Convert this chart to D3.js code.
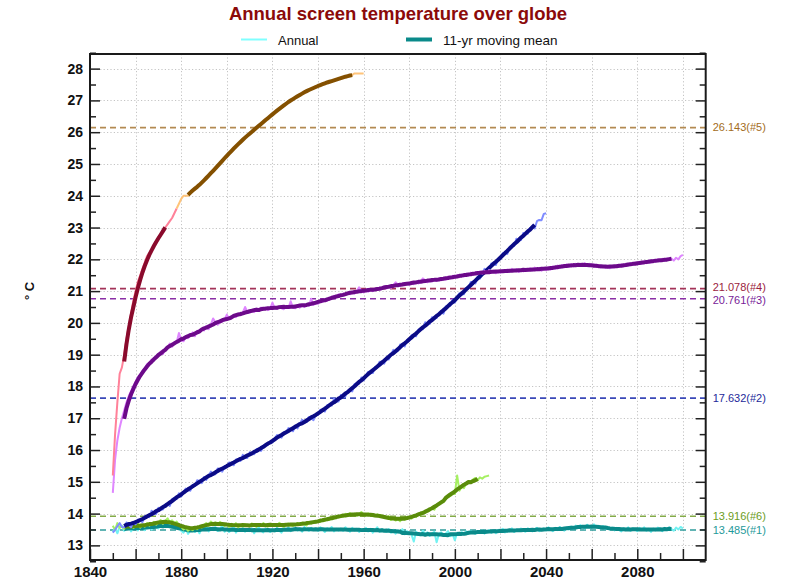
<!DOCTYPE html>
<html>
<head>
<meta charset="utf-8">
<script src="https://cdn.jsdelivr.net/npm/d3@7"></script>
<style>
  body { margin: 0; background: #fff; }
  svg { display: block; }
  text { font-family: "Liberation Sans", Arial, Helvetica, sans-serif; }
</style>
</head>
<body>
<svg id="chart" width="785" height="580"></svg>
<script>
// ---------------- data ----------------
const titleText = "Annual screen temperature over globe";
const legendLabels = ["Annual", "11-yr moving mean"];
const yTickValues = [13, 14, 15, 16, 17, 18, 19, 20, 21, 22, 23, 24, 25, 26, 27, 28];
const xLabelYears = [1840, 1880, 1920, 1960, 2000, 2040, 2080];

// first year of each run's annual record
const runStartYears = [1850, 1850, 1850, 1850, 1878, 1850];
const runIds = ["#1", "#2", "#3", "#4", "#5", "#6"];
// reference (equilibrium) temperatures of the runs
const refValues = [13.485, 17.632, 20.761, 21.078, 26.143, 13.916];

// run #1, 1850-2100
const annualRun1 = [
  13.42,13.55,13.38,13.58,13.62,13.46,13.52,13.60,13.44,13.55,
  13.58,13.47,13.64,13.53,13.48,13.60,13.66,13.50,13.58,13.62,
  13.53,13.64,13.57,13.68,13.60,13.72,13.62,13.57,13.66,13.53,
  13.46,13.40,13.52,13.36,13.48,13.54,13.42,13.50,13.38,13.57,
  13.50,13.60,13.44,13.55,13.48,13.58,13.45,13.53,13.62,13.43,
  13.51,13.42,13.49,13.57,13.40,13.52,13.46,13.55,13.43,13.51,
  13.45,13.54,13.38,13.50,13.57,13.46,13.41,13.53,13.48,13.42,
  13.51,13.44,13.55,13.46,13.40,13.54,13.49,13.57,13.45,13.51,
  13.56,13.47,13.53,13.43,13.58,13.50,13.46,13.55,13.48,13.52,
  13.46,13.57,13.50,13.42,13.54,13.48,13.58,13.44,13.52,13.47,
  13.53,13.46,13.57,13.50,13.43,13.55,13.47,13.52,13.42,13.51,
  13.47,13.55,13.44,13.52,13.40,13.49,13.57,13.43,13.51,13.46,
  13.43,13.51,13.40,13.49,13.37,13.47,13.42,13.51,13.35,13.45,
  13.40,13.34,13.12,13.43,13.38,13.32,13.46,13.35,13.41,13.30,
  13.38,13.43,13.10,13.35,13.41,13.31,13.37,13.45,13.29,13.36,
  13.16,13.40,13.33,13.42,13.35,13.44,13.37,13.46,13.40,13.36,
  13.45,13.39,13.47,13.37,13.44,13.48,13.40,13.46,13.38,13.49,
  13.43,13.52,13.41,13.48,13.44,13.54,13.42,13.50,13.45,13.53,
  13.46,13.43,13.54,13.47,13.44,13.51,13.55,13.45,13.50,13.53,
  13.47,13.57,13.50,13.45,13.55,13.48,13.58,13.51,13.46,13.56,
  13.50,13.59,13.52,13.62,13.55,13.64,13.58,13.53,13.65,13.59,
  13.55,13.66,13.57,13.62,13.54,13.61,13.52,13.58,13.50,13.56,
  13.47,13.55,13.49,13.44,13.54,13.48,13.57,13.46,13.53,13.50,
  13.45,13.55,13.48,13.57,13.46,13.52,13.42,13.53,13.47,13.56,
  13.50,13.45,13.55,13.48,13.57,13.51,13.46,13.56,13.50,13.58,
  13.53
];

// run #2, 1850-2040
const annualRun2 = [
  13.40,13.49,13.60,13.70,13.58,13.57,13.72,13.66,13.57,13.73,
  13.66,13.81,13.79,13.73,13.92,13.93,13.89,14.09,14.00,13.99,
  14.18,14.13,14.13,14.29,14.30,14.24,14.46,14.48,14.46,14.64,
  14.54,14.68,14.79,14.74,14.72,14.90,14.87,15.05,15.02,14.96,
  15.15,15.06,15.20,15.32,15.23,15.24,15.42,15.38,15.32,15.50,
  15.46,15.61,15.58,15.52,15.70,15.71,15.66,15.85,15.76,15.75,
  15.93,15.88,15.87,16.03,16.03,15.97,16.12,16.17,16.17,16.26,
  16.24,16.37,16.47,16.42,16.39,16.56,16.55,16.69,16.66,16.59,
  16.77,16.68,16.83,16.95,16.89,16.88,17.04,17.00,16.94,17.13,
  17.11,17.27,17.26,17.21,17.41,17.43,17.40,17.61,17.53,17.53,
  17.73,17.69,17.70,17.87,17.89,17.84,18.07,18.10,18.09,18.28,
  18.19,18.34,18.46,18.43,18.42,18.61,18.59,18.78,18.77,18.72,
  18.92,18.85,19.01,19.15,19.08,19.12,19.32,19.30,19.26,19.46,
  19.44,19.61,19.61,19.58,19.79,19.82,19.80,20.02,19.96,19.97,
  20.18,20.14,20.15,20.32,20.34,20.29,20.52,20.55,20.54,20.73,
  20.64,20.80,20.93,20.90,20.90,21.10,21.09,21.29,21.28,21.24,
  21.45,21.39,21.55,21.70,21.63,21.67,21.87,21.86,21.82,22.03,
  22.01,22.19,22.20,22.17,22.39,22.43,22.42,22.65,22.59,22.61,
  22.83,22.80,22.81,22.99,23.01,22.97,23.20,23.24,23.23,23.43,
  23.45
];

// run #3, 1850-2100
const annualRun3 = [
  14.65,15.70,16.30,16.70,17.00,17.25,17.50,17.70,17.85,18.00,
  18.15,18.30,18.35,18.50,18.55,18.70,18.72,18.85,18.82,18.95,
  19.00,19.10,19.02,19.18,19.20,19.35,19.25,19.40,19.38,19.68,
  19.45,19.42,19.58,19.52,19.62,19.70,19.58,19.75,19.70,19.80,
  19.76,19.90,19.80,19.95,20.14,20.02,19.94,20.02,20.04,20.10,
  20.26,20.12,20.14,20.22,20.18,20.28,20.24,20.32,20.50,20.34,
  20.32,20.40,20.34,20.45,20.38,20.48,20.42,20.48,20.40,20.44,
  20.64,20.46,20.44,20.52,20.46,20.43,20.52,20.47,20.68,20.48,
  20.46,20.54,20.48,20.56,20.50,20.58,20.54,20.76,20.56,20.64,
  20.60,20.70,20.66,20.75,20.70,20.80,20.76,20.85,20.80,20.90,
  20.84,20.92,20.88,20.95,20.90,20.98,20.92,21.00,21.12,21.02,
  20.96,21.04,20.98,21.06,21.00,21.08,21.04,21.12,21.06,21.15,
  21.08,21.16,21.10,21.18,21.28,21.20,21.16,21.24,21.18,21.26,
  21.20,21.28,21.22,21.30,21.24,21.32,21.40,21.34,21.28,21.36,
  21.30,21.38,21.32,21.40,21.34,21.42,21.36,21.46,21.40,21.48,
  21.42,21.50,21.44,21.52,21.46,21.55,21.48,21.58,21.51,21.60,
  21.53,21.62,21.55,21.64,21.56,21.66,21.58,21.65,21.56,21.63,
  21.58,21.66,21.60,21.68,21.61,21.70,21.63,21.69,21.60,21.67,
  21.62,21.70,21.64,21.72,21.65,21.74,21.66,21.73,21.64,21.72,
  21.66,21.75,21.68,21.78,21.70,21.80,21.73,21.82,21.75,21.84,
  21.76,21.85,21.78,21.86,21.80,21.86,21.80,21.88,21.80,21.86,
  21.78,21.84,21.76,21.82,21.74,21.80,21.73,21.79,21.72,21.77,
  21.74,21.82,21.76,21.84,21.78,21.86,21.80,21.88,21.82,21.90,
  21.84,21.92,21.86,21.94,21.88,21.96,21.90,21.98,21.93,22.00,
  21.94,22.02,21.96,22.03,21.98,22.02,21.96,22.05,22.00,22.10,
  22.14
];

// run #4, 1850-1878
const annualRun4 = [
  15.20,16.50,17.50,18.40,18.60,19.00,19.50,19.90,20.30,20.70,
  21.00,21.30,21.50,21.70,21.90,22.10,22.20,22.30,22.45,22.55,
  22.70,22.80,22.90,23.00,23.10,23.20,23.30,23.45,23.60
];

// run #5, 1878-1960
const annualRun5 = [
  23.60,23.75,23.90,24.00,24.00,24.00,24.08,24.14,24.20,24.27,
  24.34,24.41,24.48,24.55,24.62,24.70,24.78,24.86,24.94,25.02,
  25.10,25.18,25.26,25.34,25.42,25.50,25.57,25.64,25.70,25.75,
  25.85,25.90,25.95,26.00,26.10,26.15,26.20,26.25,26.30,26.40,
  26.45,26.50,26.55,26.60,26.70,26.75,26.80,26.85,26.90,26.95,
  27.00,27.05,27.10,27.15,27.20,27.20,27.25,27.30,27.35,27.35,
  27.40,27.45,27.45,27.50,27.50,27.55,27.55,27.60,27.60,27.65,
  27.65,27.70,27.70,27.70,27.75,27.75,27.80,27.80,27.85,27.85,
  27.85,27.85,27.85
];

// run #6, 1850-2015
const annualRun6 = [
  13.62,13.48,13.70,13.55,13.60,13.52,13.66,13.58,13.63,13.55,
  13.60,13.68,13.56,13.64,13.59,13.70,13.62,13.67,13.74,13.65,
  13.72,13.80,13.68,13.76,13.85,13.73,13.79,13.70,13.75,13.62,
  13.58,13.50,13.55,13.46,13.52,13.48,13.57,13.51,13.60,13.56,
  13.64,13.70,13.62,13.75,13.68,13.72,13.66,13.74,13.69,13.61,
  13.65,13.58,13.68,13.62,13.70,13.57,13.64,13.60,13.67,13.63,
  13.60,13.69,13.63,13.58,13.66,13.62,13.70,13.64,13.59,13.68,
  13.62,13.67,13.60,13.71,13.64,13.58,13.66,13.69,13.63,13.61,
  13.66,13.70,13.64,13.72,13.67,13.63,13.74,13.69,13.76,13.72,
  13.78,13.74,13.82,13.77,13.86,13.80,13.90,13.85,13.93,13.88,
  13.95,13.90,13.99,13.94,14.02,13.96,14.00,13.93,13.98,14.05,
  13.97,13.94,14.01,13.95,13.99,13.92,13.98,13.90,13.94,13.88,
  13.86,13.92,13.80,13.84,13.78,13.83,13.76,13.85,13.80,13.88,
  13.90,13.84,13.95,13.89,14.00,13.96,14.06,14.02,14.12,14.10,
  14.18,14.12,14.26,14.30,14.38,14.36,14.46,14.52,14.55,14.66,
  14.62,15.20,14.72,14.85,14.80,14.96,15.02,14.98,15.08,15.12,
  15.05,15.14,15.10,15.16,15.18,15.20
];

// ---------------- styles ----------------
const W = 785, H = 580;
const plot = { left: 90, right: 705.7, top: 54, bottom: 560 };
const runStyle = {
  "#1": { annual: "#72f2f2", mean: "#0a8a8a", ref: "#2e9c9c", label: "#1f9a9a", nudge: 0 },
  "#2": { annual: "#7f8cff", mean: "#0b0b86", ref: "#3a48b8", label: "#23299a", nudge: 0 },
  "#3": { annual: "#df86ff", mean: "#6c0a8a", ref: "#8a2ea6", label: "#781c98", nudge: 1.6 },
  "#4": { annual: "#ff8199", mean: "#8a0a2c", ref: "#a33358", label: "#9a1c40", nudge: -1.6 },
  "#5": { annual: "#ffc47a", mean: "#845000", ref: "#b38a52", label: "#a36c22", nudge: 0 },
  "#6": { annual: "#a6f062", mean: "#5a8c0a", ref: "#84ab48", label: "#6c9c1c", nudge: 0 }
};
const drawOrder = ["#1", "#6", "#2", "#3", "#4", "#5"];

const annualById = {
  "#1": annualRun1, "#2": annualRun2, "#3": annualRun3,
  "#4": annualRun4, "#5": annualRun5, "#6": annualRun6
};

// ---------------- scales ----------------
const x = d3.scaleLinear().domain([1840, 2110]).range([plot.left, plot.right]);
const y = d3.scaleLinear().domain([12.54, 28.46]).range([plot.bottom, plot.top]);

const svg = d3.select("#chart");
svg.append("rect").attr("width", W).attr("height", H).attr("fill", "#fff");

// ---------------- grid ----------------
const grid = svg.append("g").attr("stroke", "#c4c4c4").attr("stroke-width", 1)
  .attr("stroke-dasharray", "1.2,2.2");
grid.selectAll("line.h").data(yTickValues).join("line")
  .attr("x1", plot.left).attr("x2", plot.right)
  .attr("y1", d => Math.round(y(d)) + 0.5).attr("y2", d => Math.round(y(d)) + 0.5);
grid.selectAll("line.v").data(d3.range(1860, 2101, 20)).join("line")
  .attr("x1", d => Math.round(x(d)) + 0.5).attr("x2", d => Math.round(x(d)) + 0.5)
  .attr("y1", plot.top).attr("y2", plot.bottom);

// ---------------- reference lines ----------------
const refs = refValues.map((v, i) => ({ id: runIds[i], v }));
svg.append("g").selectAll("line").data(refs).join("line")
  .attr("x1", plot.left).attr("x2", plot.right)
  .attr("y1", d => y(d.v)).attr("y2", d => y(d.v))
  .attr("stroke", d => runStyle[d.id].ref)
  .attr("stroke-width", 1.6)
  .attr("stroke-dasharray", "6,4");

svg.append("g").selectAll("text").data(refs).join("text")
  .attr("x", plot.right + 7)
  .attr("y", d => y(d.v) + runStyle[d.id].nudge)
  .attr("dy", "0.35em")
  .attr("font-size", 11)
  .attr("fill", d => runStyle[d.id].label)
  .text(d => d.v.toFixed(3) + "(" + d.id + ")");

// ---------------- series ----------------
function movingMean(vals, start, w) {
  const h = (w - 1) / 2, out = [];
  for (let i = h; i < vals.length - h; i++) {
    out.push({ year: start + i, v: d3.mean(vals.slice(i - h, i + h + 1)) });
  }
  return out;
}
const line = d3.line().x(d => x(d.year)).y(d => y(d.v));
const seriesG = svg.append("g");
drawOrder.forEach(id => {
  const idx = runIds.indexOf(id);
  const start = runStartYears[idx];
  const vals = annualById[id];
  const pts = vals.map((v, i) => ({ year: start + i, v }));
  seriesG.append("path").datum(pts)
    .attr("d", line).attr("fill", "none")
    .attr("stroke", runStyle[id].annual).attr("stroke-width", 2)
    .attr("stroke-linejoin", "round");
  seriesG.append("path").datum(movingMean(vals, start, 11))
    .attr("d", line).attr("fill", "none")
    .attr("stroke", runStyle[id].mean).attr("stroke-width", 4)
    .attr("stroke-linejoin", "round");
});

// ---------------- axes ----------------
const axisFont = g => g.selectAll("text")
  .attr("font-family", '"Liberation Sans", Arial, sans-serif')
  .attr("font-weight", "bold").attr("fill", "#111");

// left: major + minor ticks, pointing inward
svg.append("g").attr("transform", `translate(${plot.left},0)`)
  .call(d3.axisLeft(y).tickValues(yTickValues).tickSize(-10).tickPadding(7)
    .tickFormat(d3.format("d")))
  .call(g => g.select(".domain").remove())
  .call(g => g.selectAll("line").attr("stroke", "#222").attr("stroke-width", 1.5))
  .call(g => g.selectAll("text").attr("font-size", 14))
  .call(axisFont);
svg.append("g").attr("transform", `translate(${plot.left},0)`)
  .call(d3.axisLeft(y).tickValues(d3.range(12.5, 28.6, 1)).tickSize(-6).tickFormat(""))
  .call(g => g.select(".domain").remove())
  .call(g => g.selectAll("line").attr("stroke", "#222").attr("stroke-width", 1.5));

// right: mirrored ticks, no labels
svg.append("g").attr("transform", `translate(${plot.right},0)`)
  .call(d3.axisRight(y).tickValues(yTickValues).tickSize(-10).tickFormat(""))
  .call(g => g.select(".domain").remove())
  .call(g => g.selectAll("line").attr("stroke", "#222").attr("stroke-width", 1.5));
svg.append("g").attr("transform", `translate(${plot.right},0)`)
  .call(d3.axisRight(y).tickValues(d3.range(12.5, 28.6, 1)).tickSize(-6).tickFormat(""))
  .call(g => g.select(".domain").remove())
  .call(g => g.selectAll("line").attr("stroke", "#222").attr("stroke-width", 1.5));

// bottom: 20-yr major ticks, 10-yr minor ticks, labels every 40 years
svg.append("g").attr("transform", `translate(0,${plot.bottom})`)
  .call(d3.axisBottom(x).tickValues(d3.range(1840, 2101, 20)).tickSize(-11).tickPadding(6)
    .tickFormat(d => xLabelYears.includes(d) ? d : ""))
  .call(g => g.select(".domain").remove())
  .call(g => g.selectAll("line").attr("stroke", "#222").attr("stroke-width", 1.5))
  .call(g => g.selectAll("text").attr("font-size", 15))
  .call(axisFont);
svg.append("g").attr("transform", `translate(0,${plot.bottom})`)
  .call(d3.axisBottom(x).tickValues(d3.range(1850, 2101, 20)).tickSize(-7).tickFormat(""))
  .call(g => g.select(".domain").remove())
  .call(g => g.selectAll("line").attr("stroke", "#222").attr("stroke-width", 1.5));

// frame
svg.append("rect")
  .attr("x", plot.left).attr("y", plot.top)
  .attr("width", plot.right - plot.left).attr("height", plot.bottom - plot.top)
  .attr("fill", "none").attr("stroke", "#1a1a1a").attr("stroke-width", 2);

// y-axis unit
svg.append("text")
  .attr("transform", "translate(34,291) rotate(-90)")
  .attr("text-anchor", "middle")
  .attr("font-size", 13).attr("font-weight", "bold").attr("fill", "#111")
  .text("° C");

// ---------------- title & legend ----------------
svg.append("text")
  .attr("x", 398).attr("y", 20)
  .attr("text-anchor", "middle")
  .attr("font-size", 18.5).attr("font-weight", "bold").attr("fill", "#8b0a0a")
  .text(titleText);

const legend = svg.append("g");
legend.append("line").attr("x1", 241).attr("x2", 267).attr("y1", 39.5).attr("y2", 39.5)
  .attr("stroke", "#80ffff").attr("stroke-width", 2);
legend.append("text").attr("x", 278).attr("y", 44.5)
  .attr("font-size", 13).attr("fill", "#111").text(legendLabels[0]);
legend.append("line").attr("x1", 406).attr("x2", 432).attr("y1", 39.5).attr("y2", 39.5)
  .attr("stroke", "#0a8a8a").attr("stroke-width", 4);
legend.append("text").attr("x", 443).attr("y", 44.5)
  .attr("font-size", 13.5).attr("fill", "#111").text(legendLabels[1]);
</script>
</body>
</html>
